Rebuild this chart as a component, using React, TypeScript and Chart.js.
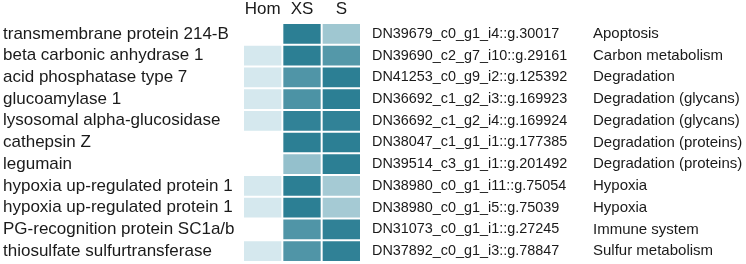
import React, { useEffect, useRef } from "react";
import { Chart, registerables } from "chart.js";

Chart.register(...registerables);

const proteins = [
  "transmembrane protein 214-B",
  "beta carbonic anhydrase 1",
  "acid phosphatase type 7",
  "glucoamylase 1",
  "lysosomal alpha-glucosidase",
  "cathepsin Z",
  "legumain",
  "hypoxia up-regulated protein 1",
  "hypoxia up-regulated protein 1",
  "PG-recognition protein SC1a/b",
  "thiosulfate sulfurtransferase",
];

const geneIds = [
  "DN39679_c0_g1_i4::g.30017",
  "DN39690_c2_g7_i10::g.29161",
  "DN41253_c0_g9_i2::g.125392",
  "DN36692_c1_g2_i3::g.169923",
  "DN36692_c1_g2_i4::g.169924",
  "DN38047_c1_g1_i1::g.177385",
  "DN39514_c3_g1_i1::g.201492",
  "DN38980_c0_g1_i11::g.75054",
  "DN38980_c0_g1_i5::g.75039",
  "DN31073_c0_g1_i1::g.27245",
  "DN37892_c0_g1_i3::g.78847",
];

const categories = [
  "Apoptosis",
  "Carbon metabolism",
  "Degradation",
  "Degradation (glycans)",
  "Degradation (glycans)",
  "Degradation (proteins)",
  "Degradation (proteins)",
  "Hypoxia",
  "Hypoxia",
  "Immune system",
  "Sulfur metabolism",
];

const columns = ["Hom", "XS", "S"];

const homValues: (number | null)[] = [null, 0.06, 0.06, 0.06, 0.06, null, null, 0.06, 0.06, null, 0.06];
const xsValues: (number | null)[] = [1, 1, 0.8, 0.82, 0.97, 1, 0.42, 1, 1, 0.8, 0.8];
const sValues: (number | null)[] = [0.36, 0.78, 1, 1, 0.97, 1, 1, 0.33, 0.33, 0.98, 0.98];

const columnValues = [homValues, xsValues, sValues];

const LIGHT = [224, 239, 244];
const DARK = [44, 127, 148];
function colorFor(v: number | null): string {
  if (v === null) return "rgba(0,0,0,0)";
  const c = LIGHT.map((l, i) => Math.round(l + v * (DARK[i] - l)));
  return `rgb(${c[0]},${c[1]},${c[2]})`;
}

const FAMILY = "'Liberation Sans', Arial, sans-serif";
const TEXT_COLOR = "#1a1a1a";

function fixWidth(w: number) {
  return (s: any) => {
    s.width = w;
    s.paddingTop = 0;
    s.paddingBottom = 0;
  };
}

export default function App() {
  const ref = useRef<HTMLCanvasElement | null>(null);

  useEffect(() => {
    if (!ref.current) return;
    const datasets = columnValues.map((vals, ci) => ({
      label: columns[ci],
      data: vals.map((v) => (v === null ? null : [ci, ci + 1])) as any,
      backgroundColor: vals.map((v) => colorFor(v)),
      borderColor: "#ffffff",
      borderWidth: 1,
      borderSkipped: false as const,
      inflateAmount: 0,
      grouped: false,
      barPercentage: 1,
      categoryPercentage: 1,
      xAxisID: "x",
      yAxisID: "y",
    }));

    const chart = new Chart(ref.current, {
      type: "bar",
      data: { labels: proteins, datasets },
      options: {
        indexAxis: "y",
        animation: false,
        responsive: true,
        maintainAspectRatio: false,
        layout: { padding: { left: 3, right: 0, top: 0, bottom: 2 } },
        plugins: { legend: { display: false }, tooltip: { enabled: false } },
        scales: {
          x: { type: "linear", min: 0, max: 3, display: false },
          top: {
            type: "category",
            labels: columns,
            position: "top",
            offset: true,
            grid: { display: false, drawTicks: false },
            border: { display: false },
            ticks: { font: { family: FAMILY, size: 17 }, color: TEXT_COLOR, padding: 3, maxRotation: 0, autoSkip: false },
            afterFit: (s: any) => {
              s.height = 23;
              s.paddingLeft = 0;
              s.paddingRight = 0;
            },
          },
          y: {
            type: "category",
            position: "left",
            offset: true,
            grid: { display: false, drawTicks: false },
            border: { display: false },
            ticks: { font: { family: FAMILY, size: 17 }, color: TEXT_COLOR, crossAlign: "far", padding: 0, autoSkip: false },
            afterFit: fixWidth(240),
          },
          gene: {
            type: "category",
            labels: geneIds,
            position: "right",
            offset: true,
            weight: 0,
            grid: { display: false, drawTicks: false },
            border: { display: false },
            ticks: { font: { family: FAMILY, size: 14.4 }, color: TEXT_COLOR, crossAlign: "near", padding: 11, autoSkip: false },
            afterFit: fixWidth(232),
          },
          cat: {
            type: "category",
            labels: categories,
            position: "right",
            offset: true,
            weight: 1,
            grid: { display: false, drawTicks: false },
            border: { display: false },
            ticks: { font: { family: FAMILY, size: 15 }, color: TEXT_COLOR, crossAlign: "near", padding: 0, autoSkip: false },
            afterFit: fixWidth(153),
          },
        } as any,
      },
    });
    return () => chart.destroy();
  }, []);

  return (
    <div style={{ position: "fixed", left: 0, top: 0, width: 746, height: 264, background: "#fff" }}>
      <canvas ref={ref} />
    </div>
  );
}
